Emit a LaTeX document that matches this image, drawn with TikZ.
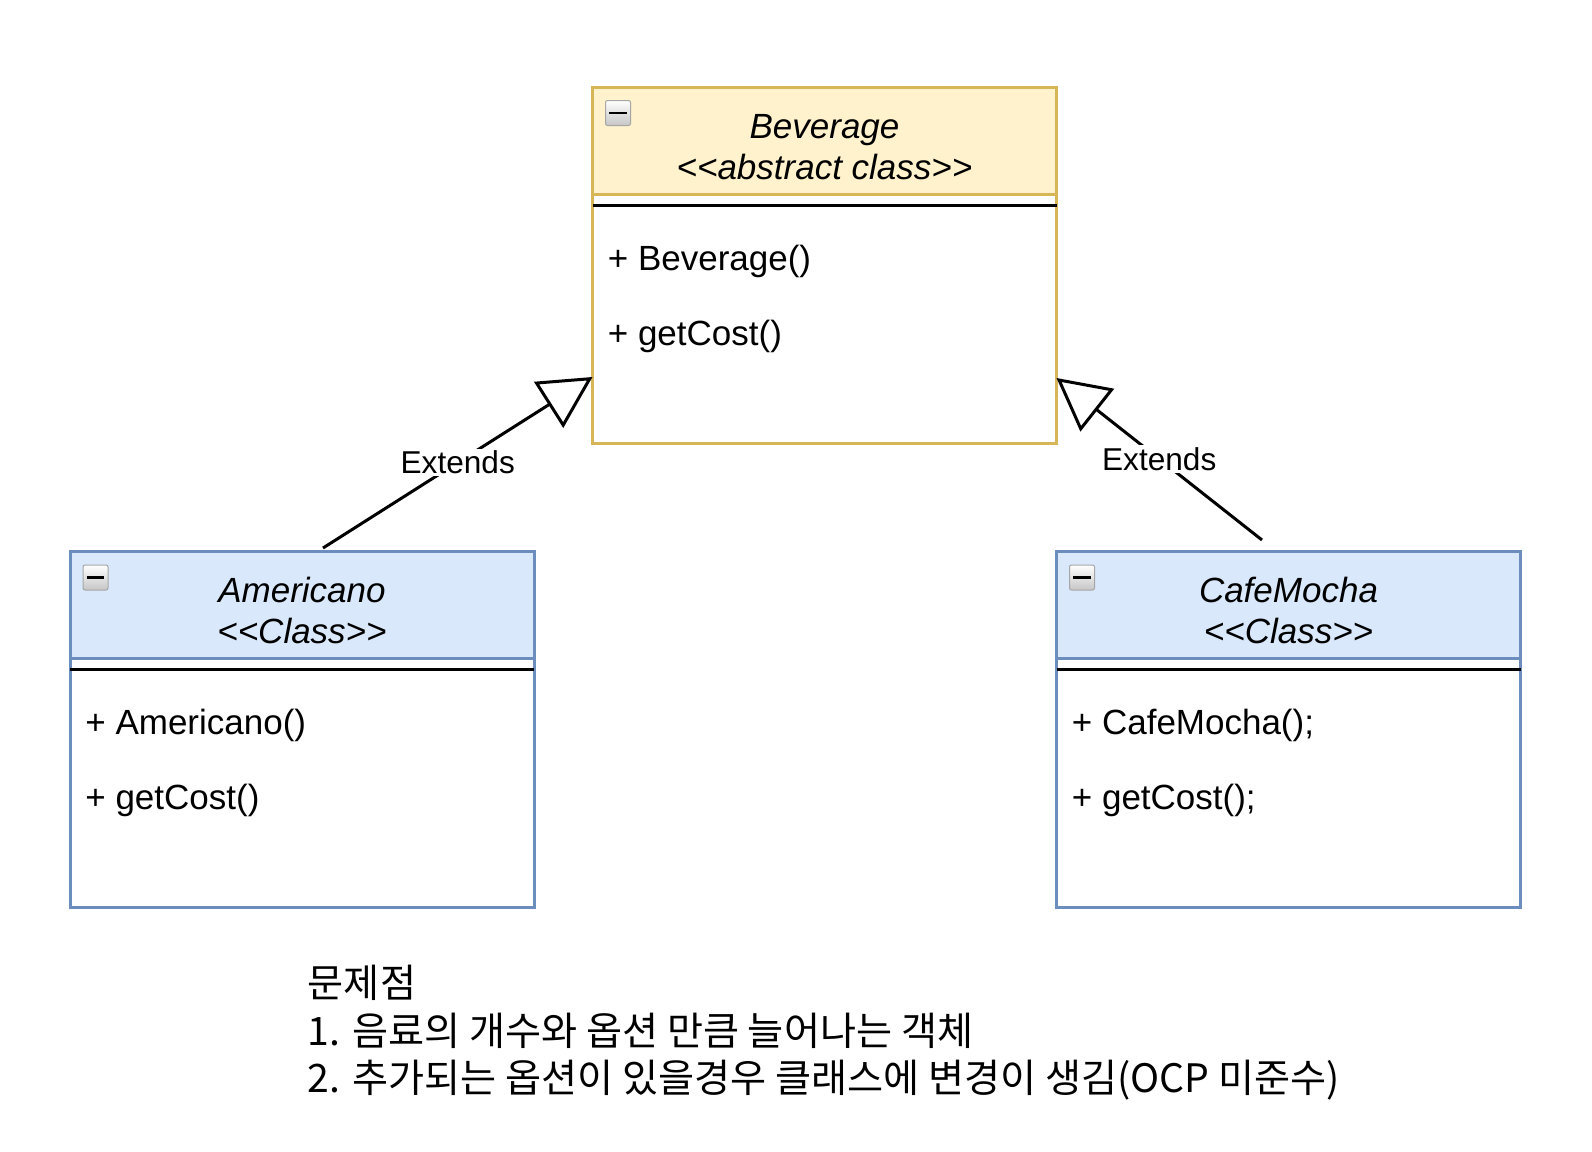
\documentclass[tikz,border=0pt]{standalone}
\usepackage{fontspec}
\usepackage{tikz}
\setmainfont{Liberation Sans}
\newfontfamily\krfont{Noto Sans CJK KR}
\usetikzlibrary{arrows.meta}

\definecolor{bevfill}{HTML}{FFF2CC}
\definecolor{bevline}{HTML}{D6B656}
\definecolor{clsfill}{HTML}{DAE8FC}
\definecolor{clsline}{HTML}{6C8EBF}

\tikzset{
  headbox/.style={draw=#1, line width=1.5pt, minimum width=232pt, minimum height=53.5pt, inner sep=0pt, outer sep=0pt, anchor=north},
  bodybox/.style={draw=#1, line width=1.5pt, minimum width=232pt, minimum height=124.5pt, inner sep=0pt, outer sep=0pt, anchor=north},
  classname/.style={font=\fontsize{17.5}{20}\selectfont\itshape, inner sep=0pt, anchor=base},
  member/.style={font=\fontsize{17.5}{20}\selectfont, inner sep=0pt, anchor=base west},
  collapse/.style={draw=gray!70, top color=white, bottom color=gray!45, minimum size=12.5pt, inner sep=0pt, anchor=north west, line width=0.5pt, rounded corners=1pt},
  minusbar/.style={line width=1.3pt},
  extends/.style={line width=1.5pt, -{Triangle[open, length=26pt, width=27pt]}},
  extlabel/.style={fill=white, font=\fontsize{15.8}{18}\selectfont, inner sep=1pt},
  note/.style={font=\krfont\fontsize{19.6}{24}\selectfont, inner sep=0pt, anchor=base west}
}

\begin{document}
\begin{tikzpicture}[x=0.5pt, y=-0.5pt]
\useasboundingbox (0,0) rectangle (1592,1152);

\node[headbox=bevline, fill=bevfill] (bevhead) at (824.5,87) {};
\node[bodybox=bevline] (bev) at (bevhead.south) {};
\draw[line width=1.5pt] ([yshift=-5.5pt]bev.north west) -- ([yshift=-5.5pt]bev.north east);
\node[collapse] (bevicon) at ([xshift=6.25pt, yshift=-6.5pt]bevhead.north west) {};
\draw[minusbar] ([xshift=-4.4pt]bevicon.center) -- ([xshift=4.4pt]bevicon.center);
\node[classname] (bevname) at ([yshift=-25.6pt]bevhead.north) {Beverage};
\node[classname] (bevtype) at ([yshift=-20.5pt]bevname.base) {<{}<abstract class>{}>};
\node[member] (bevctor) at ([xshift=7.5pt, yshift=-38pt]bev.north west) {+ Beverage()};
\node[member] (bevcost) at ([yshift=-37.5pt]bevctor.base west) {+ getCost()};

\node[headbox=clsline, fill=clsfill] (amehead) at (302,551) {};
\node[bodybox=clsline] (ame) at (amehead.south) {};
\draw[line width=1.5pt] ([yshift=-5.5pt]ame.north west) -- ([yshift=-5.5pt]ame.north east);
\node[collapse] (ameicon) at ([xshift=6.25pt, yshift=-6.75pt]amehead.north west) {};
\draw[minusbar] ([xshift=-4.4pt]ameicon.center) -- ([xshift=4.4pt]ameicon.center);
\node[classname] (amename) at ([yshift=-25.6pt]amehead.north) {Americano};
\node[classname] (ametype) at ([yshift=-20.5pt]amename.base) {<{}<Class>{}>};
\node[member] (amector) at ([xshift=7.5pt, yshift=-38pt]ame.north west) {+ Americano()};
\node[member] (amecost) at ([yshift=-37.5pt]amector.base west) {+ getCost()};

\node[headbox=clsline, fill=clsfill] (mochahead) at (1288.5,551) {};
\node[bodybox=clsline] (mocha) at (mochahead.south) {};
\draw[line width=1.5pt] ([yshift=-5.5pt]mocha.north west) -- ([yshift=-5.5pt]mocha.north east);
\node[collapse] (mochaicon) at ([xshift=6.25pt, yshift=-6.75pt]mochahead.north west) {};
\draw[minusbar] ([xshift=-4.4pt]mochaicon.center) -- ([xshift=4.4pt]mochaicon.center);
\node[classname] (mochaname) at ([yshift=-25.6pt]mochahead.north) {CafeMocha};
\node[classname] (mochatype) at ([yshift=-20.5pt]mochaname.base) {<{}<Class>{}>};
\node[member] (mochactor) at ([xshift=7.5pt, yshift=-38pt]mocha.north west) {+ CafeMocha();};
\node[member] (mochacost) at ([yshift=-37.5pt]mochactor.base west) {+ getCost();};

\draw[extends] ([xshift=10.5pt, yshift=1.5pt]amehead.north) -- node[extlabel] (extleft) {Extends} ([yshift=33pt]bev.south west);
\draw[extends] ([xshift=-13.25pt, yshift=5.5pt]mochahead.north) -- node[extlabel] (extright) {Extends} ([yshift=32.5pt]bev.south east);

\node[note] (note1) at (307.5,997) {문제점};
\node[note] (note2) at ([yshift=-24pt]note1.base west) {1. 음료의 개수와 옵션 만큼 늘어나는 객체};
\node[note] (note3) at ([yshift=-23.5pt]note2.base west) {2. 추가되는 옵션이 있을경우 클래스에 변경이 생김(OCP 미준수)};
\end{tikzpicture}
\end{document}
